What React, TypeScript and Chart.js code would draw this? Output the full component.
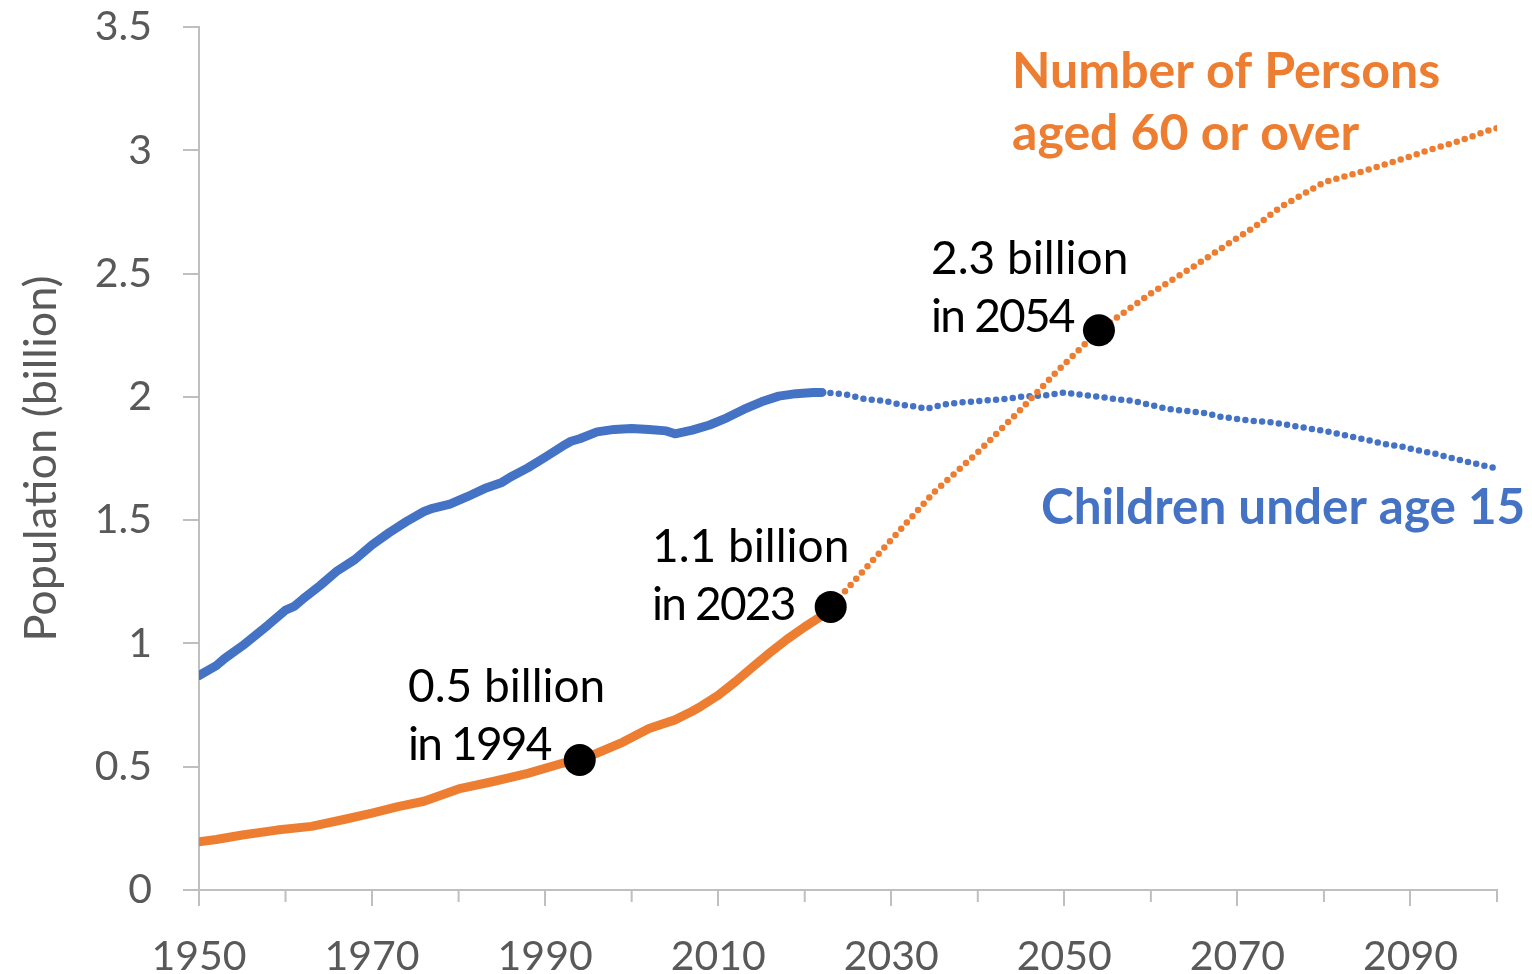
import React, { useEffect, useRef } from "react";
import { Chart, registerables } from "chart.js";

Chart.register(...registerables);

// ---------- data ----------
const childYearsPast = [1950, 1952, 1953, 1955, 1958, 1960, 1961, 1962, 1964, 1966, 1968, 1970, 1972, 1974, 1976, 1977, 1979, 1981, 1983, 1985, 1986, 1988, 1990, 1992, 1993, 1994, 1996, 1998, 2000, 2002, 2004, 2005, 2007, 2009, 2011, 2013, 2015, 2017, 2019, 2021, 2022];
const childValuesPast = [0.87, 0.91, 0.94, 0.99, 1.075, 1.135, 1.15, 1.18, 1.235, 1.295, 1.34, 1.4, 1.45, 1.495, 1.535, 1.548, 1.565, 1.595, 1.628, 1.653, 1.675, 1.712, 1.755, 1.8, 1.82, 1.83, 1.858, 1.868, 1.872, 1.868, 1.862, 1.85, 1.865, 1.886, 1.915, 1.95, 1.98, 2.003, 2.013, 2.018, 2.018];

const childYearsProj = [2022, 2023, 2025, 2027, 2029, 2031, 2033, 2034, 2036, 2038, 2040, 2043, 2045, 2048, 2050, 2052, 2054, 2056, 2058, 2060, 2062, 2064, 2066, 2068, 2070, 2072, 2074, 2077, 2080, 2083, 2085, 2087, 2089, 2091, 2093, 2095, 2097, 2099, 2100];
const childValuesProj = [2.018, 2.016, 2.008, 1.99, 1.985, 1.969, 1.96, 1.951, 1.969, 1.977, 1.983, 1.991, 2.0, 2.007, 2.017, 2.008, 2.0, 1.991, 1.983, 1.967, 1.951, 1.943, 1.936, 1.92, 1.91, 1.902, 1.897, 1.879, 1.862, 1.84, 1.825, 1.809, 1.798, 1.782, 1.768, 1.75, 1.733, 1.717, 1.71];

const olderYearsPast = [1950, 1952, 1955, 1959, 1963, 1967, 1970, 1973, 1976, 1980, 1984, 1988, 1992, 1994, 1996, 1999, 2002, 2005, 2007, 2008, 2010, 2012, 2014, 2016, 2018, 2020, 2022];
const olderValuesPast = [0.196, 0.205, 0.223, 0.243, 0.258, 0.288, 0.312, 0.338, 0.36, 0.41, 0.44, 0.473, 0.514, 0.527, 0.555, 0.6, 0.655, 0.69, 0.725, 0.745, 0.79, 0.845, 0.905, 0.963, 1.018, 1.067, 1.112];

const olderYearsProj = [2022, 2023, 2025, 2030, 2035, 2040, 2045, 2049, 2054, 2060, 2063, 2065, 2070, 2072, 2075, 2079, 2080, 2085, 2090, 2092, 2095, 2099, 2100];
const olderValuesProj = [1.112, 1.148, 1.225, 1.42, 1.615, 1.775, 1.95, 2.098, 2.27, 2.42, 2.486, 2.53, 2.645, 2.69, 2.77, 2.85, 2.87, 2.92, 2.975, 3.0, 3.03, 3.08, 3.09];

const milestoneYears = [1994, 2023, 2054];
const milestoneValues = [0.527, 1.148, 2.27];
const milestoneLine1 = ["0.5 billion", "1.1 billion", "2.3 billion"];
const milestoneLine2 = ["in 1994", "in 2023", "in 2054"];

const xTickValues = [1950, 1960, 1970, 1980, 1990, 2000, 2010, 2020, 2030, 2040, 2050, 2060, 2070, 2080, 2090, 2100];
const xLabelledTicks = [1950, 1970, 1990, 2010, 2030, 2050, 2070, 2090];
const yTickLabels = ["0", "0.5", "1", "1.5", "2", "2.5", "3", "3.5"];

const olderLabel = ["Number of Persons", "aged 60 or over"];
const childLabel = "Children under age 15";
const yTitle = "Population (billion)";

// ---------- styles ----------
const BLUE = "#4472C4";
const ORANGE = "#ED7D31";
const AXIS = "#BFBFBF";
const TEXT = "#595959";
const FONT = "Lato, 'Open Sans', sans-serif";

// label anchors in data coordinates (year, value) – left edge, baseline
const milestoneTextAnchors = [
  [1974.15, 0.762],
  [2002.35, 1.33],
  [2034.6, 2.498],
];
const olderLabelAnchor = [2043.96, 3.253];
const childLabelAnchor = [2047.3, 1.484];

function zip(xs: number[], ys: number[]) {
  return xs.map((x, i) => ({ x, y: ys[i] }));
}

const overlayPlugin = {
  id: "overlay",
  afterDraw(chart: any) {
    const { ctx, scales } = chart;
    const xs = scales.x;
    const ys = scales.y;
    ctx.save();
    // minor ticks on the x axis
    ctx.strokeStyle = AXIS;
    ctx.lineWidth = 2;
    const bottom = xs.top;
    xTickValues.forEach((v) => {
      if (xLabelledTicks.includes(v)) return;
      const px = xs.getPixelForValue(v);
      ctx.beginPath();
      ctx.moveTo(px, bottom);
      ctx.lineTo(px, bottom + 12);
      ctx.stroke();
    });

    // milestone texts
    ctx.fillStyle = "#000000";
    ctx.font = `46px ${FONT}`;
    ctx.textAlign = "left";
    ctx.textBaseline = "alphabetic";
    milestoneTextAnchors.forEach((a, i) => {
      const px = xs.getPixelForValue(a[0]);
      const py = ys.getPixelForValue(a[1]);
      ctx.letterSpacing = "0px";
      ctx.fillText(milestoneLine1[i], px, py);
      ctx.letterSpacing = "-1.8px";
      ctx.fillText(milestoneLine2[i], px, py + 58);
    });
    ctx.letterSpacing = "0px";

    // series labels
    ctx.font = `bold 50px ${FONT}`;
    ctx.fillStyle = ORANGE;
    {
      const px = xs.getPixelForValue(olderLabelAnchor[0]);
      const py = ys.getPixelForValue(olderLabelAnchor[1]);
      ctx.fillText(olderLabel[0], px, py);
      ctx.fillText(olderLabel[1], px, py + 62);
    }
    ctx.font = `bold 49.4px ${FONT}`;
    ctx.fillStyle = BLUE;
    {
      const px = xs.getPixelForValue(childLabelAnchor[0]);
      const py = ys.getPixelForValue(childLabelAnchor[1]);
      ctx.fillText(childLabel, px, py);
    }
    ctx.restore();
  },
};

export default function App() {
  const canvasRef = useRef<HTMLCanvasElement | null>(null);

  useEffect(() => {
    if (!canvasRef.current) return;
    const dotted = {
      borderDash: [0, 8.4],
      borderCapStyle: "round" as const,
      borderWidth: 6.5,
      pointRadius: 0,
      tension: 0,
      fill: false,
    };
    const solid = {
      borderWidth: 9,
      borderCapStyle: "round" as const,
      borderJoinStyle: "round" as const,
      pointRadius: 0,
      tension: 0,
      fill: false,
    };
    const chart = new Chart(canvasRef.current, {
      type: "line",
      data: {
        datasets: [
          {
            label: "Milestones",
            data: zip(milestoneYears, milestoneValues),
            showLine: false,
            pointRadius: 16,
            pointBackgroundColor: "#000000",
            pointBorderColor: "#000000",
            pointBorderWidth: 0,
          } as any,
          { label: "60+ (projection)", data: zip(olderYearsProj, olderValuesProj), borderColor: ORANGE, ...dotted },
          { label: "60+", data: zip(olderYearsPast, olderValuesPast), borderColor: ORANGE, ...solid },
          { label: "Under 15 (projection)", data: zip(childYearsProj, childValuesProj), borderColor: BLUE, ...dotted },
          { label: "Under 15", data: zip(childYearsPast, childValuesPast), borderColor: BLUE, ...solid },
        ],
      },
      options: {
        animation: false,
        responsive: true,
        maintainAspectRatio: false,
        layout: { padding: { top: 27, right: 35, left: 0, bottom: 0 } },
        plugins: {
          legend: { display: false },
          tooltip: { enabled: false },
        },
        scales: {
          x: {
            type: "linear",
            min: 1950,
            max: 2100,
            afterFit: (s: any) => {
              s.height = 84;
              s.paddingLeft = 0;
              s.paddingRight = 0;
            },
            afterBuildTicks: (s: any) => {
              s.ticks = xTickValues.map((v) => ({ value: v }));
            },
            border: { display: true, color: AXIS, width: 2 },
            grid: {
              drawOnChartArea: false,
              drawTicks: true,
              tickLength: 16,
              color: AXIS,
              lineWidth: 2,
              tickColor: (c: any) => (c.tick && xLabelledTicks.includes(c.tick.value) ? AXIS : "rgba(0,0,0,0)"),
            },
            ticks: {
              autoSkip: false,
              maxRotation: 0,
              padding: 26,
              color: TEXT,
              font: { family: FONT, size: 41 },
              callback: (v: any) => (xLabelledTicks.includes(Number(v)) ? String(v) : ""),
            },
          },
          y: {
            type: "linear",
            min: 0,
            max: 3.5,
            afterFit: (s: any) => {
              s.width = 199;
              s.paddingTop = 0;
              s.paddingBottom = 0;
            },
            border: { display: true, color: AXIS, width: 2 },
            grid: {
              drawOnChartArea: false,
              drawTicks: true,
              tickLength: 16,
              color: AXIS,
              lineWidth: 2,
            },
            ticks: {
              stepSize: 0.5,
              padding: 31,
              color: TEXT,
              font: { family: FONT, size: 41 },
              callback: (_v: any, i: number) => yTickLabels[i],
            },
            title: {
              display: true,
              text: yTitle,
              color: TEXT,
              font: { family: FONT, size: 45 },
              padding: { top: 14, bottom: 0 },
            },
          },
        },
      },
      plugins: [overlayPlugin],
    });
    return () => chart.destroy();
  }, []);

  return (
    <div style={{ position: "fixed", left: 0, top: 0, width: 1532, height: 974, background: "#fff" }}>
      <canvas ref={canvasRef} />
    </div>
  );
}
